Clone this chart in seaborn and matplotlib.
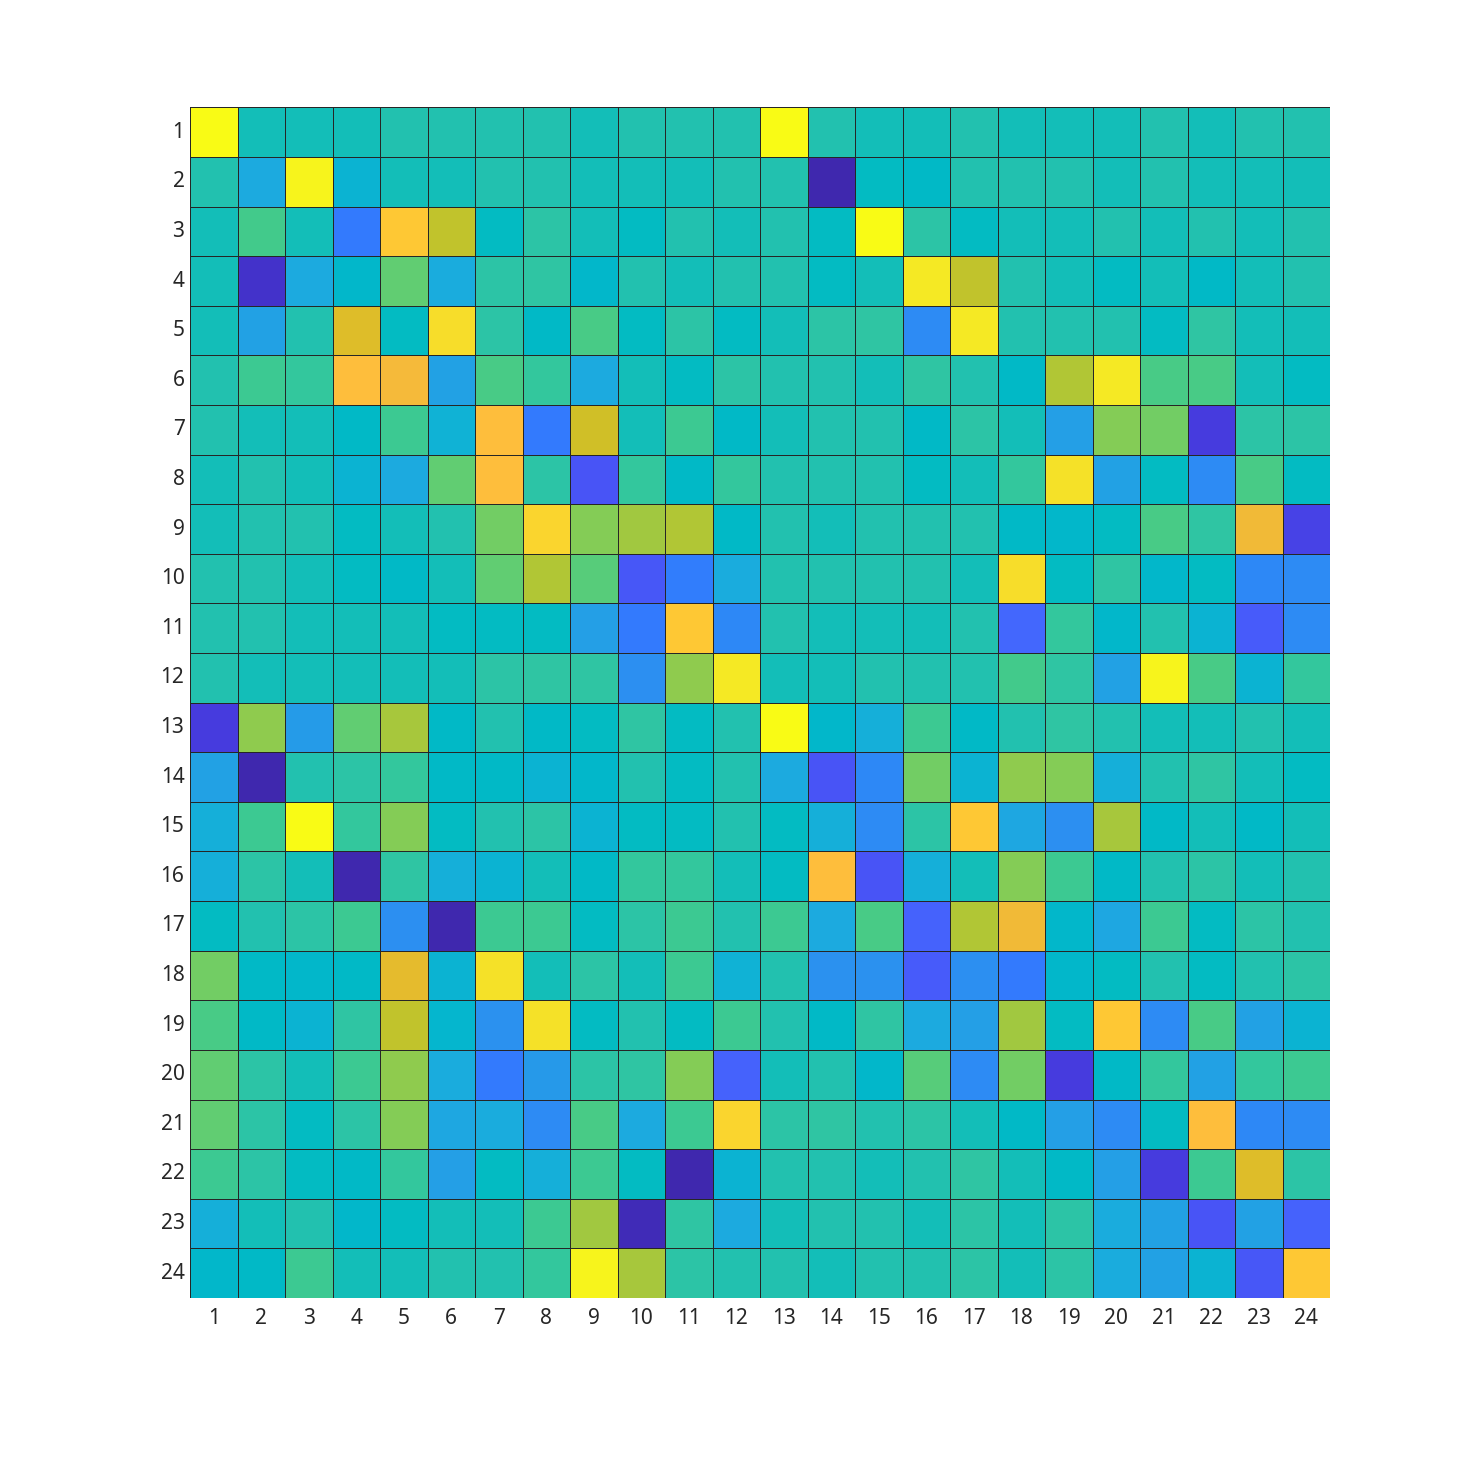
import numpy as np
import pandas as pd
import matplotlib
matplotlib.use('Agg')
import matplotlib.pyplot as plt
import seaborn as sns
from matplotlib.colors import LinearSegmentedColormap

# tick labels for both axes
labels = [str(i) for i in range(1, 25)]

# cell values, one list per row (scaled 0..1)
row01 = [1.00, .50, .50, .50, .52, .52, .52, .52, .50, .52, .52, .52, 1.00, .52, .50, .50, .52, .50, .50, .50, .52, .50, .52, .52]
row02 = [.52, .40, .98, .44, .50, .50, .52, .52, .50, .50, .50, .52, .52, .01, .48, .47, .52, .52, .52, .50, .52, .50, .50, .50]
row03 = [.50, .59, .50, .25, .87, .74, .48, .54, .50, .48, .52, .50, .52, .48, 1.00, .54, .48, .50, .50, .52, .50, .52, .50, .52]
row04 = [.50, .05, .40, .46, .63, .41, .54, .55, .46, .52, .50, .52, .52, .48, .50, .95, .74, .52, .50, .48, .50, .47, .50, .52]
row05 = [.50, .37, .52, .78, .48, .92, .54, .47, .60, .48, .54, .48, .50, .54, .55, .30, .95, .52, .52, .52, .48, .55, .50, .50]
row06 = [.52, .58, .56, .84, .82, .37, .60, .56, .40, .50, .48, .54, .52, .52, .50, .55, .52, .47, .72, .95, .60, .60, .50, .48]
row07 = [.52, .50, .50, .47, .58, .43, .84, .25, .76, .50, .58, .47, .50, .52, .52, .47, .54, .50, .36, .67, .65, .08, .54, .54]
row08 = [.50, .52, .50, .44, .40, .63, .84, .54, .15, .56, .47, .56, .52, .52, .52, .48, .50, .56, .93, .37, .48, .30, .60, .48]
row09 = [.50, .52, .52, .48, .50, .52, .65, .90, .67, .70, .72, .47, .52, .50, .52, .52, .52, .47, .46, .48, .60, .55, .81, .10]
row10 = [.52, .52, .50, .48, .47, .50, .63, .72, .62, .16, .26, .41, .52, .52, .52, .52, .50, .92, .48, .55, .46, .48, .29, .30]
row11 = [.52, .52, .50, .50, .50, .48, .48, .48, .36, .25, .87, .29, .52, .50, .50, .50, .52, .20, .56, .46, .52, .44, .17, .30]
row12 = [.52, .50, .50, .50, .50, .50, .54, .55, .55, .31, .68, .95, .50, .50, .52, .52, .52, .59, .55, .37, .98, .60, .44, .56]
row13 = [.08, .68, .35, .63, .71, .47, .52, .47, .48, .55, .48, .52, 1.00, .46, .42, .58, .47, .52, .55, .52, .50, .50, .52, .50]
row14 = [.37, .01, .52, .54, .56, .47, .47, .44, .46, .52, .48, .52, .40, .15, .29, .65, .44, .68, .67, .42, .52, .55, .50, .48]
row15 = [.42, .58, 1.00, .56, .67, .48, .52, .54, .44, .48, .48, .52, .48, .42, .30, .54, .87, .39, .31, .71, .47, .50, .47, .50]
row16 = [.42, .54, .50, .01, .55, .42, .44, .50, .47, .56, .56, .50, .48, .84, .15, .42, .50, .67, .58, .47, .52, .54, .50, .52]
row17 = [.48, .52, .54, .58, .31, .01, .58, .58, .48, .54, .58, .52, .58, .40, .60, .19, .72, .81, .46, .39, .58, .48, .54, .52]
row18 = [.65, .47, .46, .47, .79, .44, .93, .50, .54, .50, .58, .43, .52, .32, .32, .17, .31, .25, .46, .48, .52, .48, .52, .54]
row19 = [.60, .47, .44, .55, .74, .45, .32, .93, .48, .52, .48, .58, .52, .47, .55, .40, .36, .70, .48, .87, .30, .60, .37, .44]
row20 = [.63, .54, .50, .58, .68, .41, .25, .34, .54, .55, .67, .19, .50, .52, .46, .62, .30, .65, .08, .47, .56, .37, .56, .58]
row21 = [.63, .54, .48, .54, .67, .39, .41, .30, .60, .40, .58, .90, .54, .55, .52, .54, .50, .47, .36, .30, .48, .84, .29, .30]
row22 = [.58, .54, .48, .47, .56, .36, .48, .42, .58, .48, .01, .44, .52, .52, .50, .52, .55, .50, .47, .36, .08, .58, .78, .54]
row23 = [.42, .50, .52, .46, .48, .50, .50, .58, .70, .02, .55, .40, .50, .52, .52, .50, .54, .50, .54, .41, .37, .15, .37, .19]
row24 = [.46, .47, .58, .50, .50, .52, .52, .56, .98, .71, .54, .52, .52, .50, .52, .52, .54, .50, .54, .41, .37, .44, .16, .87]

rows = [row01, row02, row03, row04, row05, row06, row07, row08, row09, row10, row11, row12,
        row13, row14, row15, row16, row17, row18, row19, row20, row21, row22, row23, row24]

# MATLAB parula, 64 steps
parula_rgb = [
    [0.2422, 0.1504, 0.6603], [0.2504, 0.1650, 0.7076], [0.2578, 0.1818, 0.7511], [0.2647, 0.1978, 0.7952],
    [0.2706, 0.2147, 0.8364], [0.2751, 0.2342, 0.8710], [0.2783, 0.2559, 0.8991], [0.2803, 0.2782, 0.9221],
    [0.2813, 0.3006, 0.9414], [0.2810, 0.3228, 0.9579], [0.2795, 0.3447, 0.9717], [0.2760, 0.3667, 0.9829],
    [0.2699, 0.3892, 0.9906], [0.2602, 0.4123, 0.9952], [0.2440, 0.4358, 0.9988], [0.2206, 0.4603, 0.9973],
    [0.1963, 0.4847, 0.9892], [0.1834, 0.5074, 0.9798], [0.1786, 0.5289, 0.9682], [0.1764, 0.5499, 0.9520],
    [0.1687, 0.5703, 0.9359], [0.1540, 0.5902, 0.9218], [0.1460, 0.6091, 0.9079], [0.1380, 0.6276, 0.8973],
    [0.1248, 0.6459, 0.8883], [0.1113, 0.6635, 0.8763], [0.0952, 0.6798, 0.8598], [0.0689, 0.6948, 0.8394],
    [0.0297, 0.7082, 0.8163], [0.0036, 0.7203, 0.7917], [0.0067, 0.7312, 0.7660], [0.0433, 0.7411, 0.7394],
    [0.0964, 0.7500, 0.7120], [0.1408, 0.7584, 0.6842], [0.1717, 0.7670, 0.6554], [0.1938, 0.7758, 0.6251],
    [0.2161, 0.7843, 0.5923], [0.2470, 0.7918, 0.5567], [0.2906, 0.7973, 0.5188], [0.3406, 0.8008, 0.4789],
    [0.3909, 0.8029, 0.4354], [0.4456, 0.8024, 0.3909], [0.5044, 0.7993, 0.3480], [0.5616, 0.7942, 0.3045],
    [0.6174, 0.7876, 0.2612], [0.6720, 0.7793, 0.2227], [0.7242, 0.7698, 0.1910], [0.7738, 0.7598, 0.1646],
    [0.8203, 0.7498, 0.1535], [0.8634, 0.7406, 0.1596], [0.9035, 0.7330, 0.1774], [0.9393, 0.7288, 0.2100],
    [0.9728, 0.7298, 0.2394], [0.9956, 0.7434, 0.2371], [0.9970, 0.7659, 0.2199], [0.9952, 0.7893, 0.2028],
    [0.9892, 0.8136, 0.1885], [0.9786, 0.8386, 0.1766], [0.9676, 0.8639, 0.1643], [0.9610, 0.8890, 0.1537],
    [0.9597, 0.9135, 0.1423], [0.9628, 0.9373, 0.1265], [0.9691, 0.9606, 0.1064], [0.9769, 0.9839, 0.0805],
]
parula = LinearSegmentedColormap.from_list('parula', parula_rgb, N=256)

df = pd.DataFrame(np.array(rows), index=labels, columns=labels)

sns.set_style('white')
plt.rcParams['font.family'] = ['Noto Sans', 'DejaVu Sans']

fig = plt.figure(figsize=(14.7, 14.59), dpi=100)
ax = fig.add_axes([0.1293, 0.1104, 0.7755, 0.816])

sns.heatmap(df, cmap=parula, vmin=0, vmax=1, cbar=False,
            linewidths=0.5, linecolor='#262626', ax=ax)

ax.tick_params(axis='both', length=0, labelsize=15, labelcolor='#262626')
ax.tick_params(axis='x', pad=7)
ax.tick_params(axis='y', pad=4)
plt.setp(ax.get_yticklabels(), rotation=0)
plt.setp(ax.get_xticklabels(), rotation=0)

fig.savefig('out.png', dpi=100, facecolor='white')
